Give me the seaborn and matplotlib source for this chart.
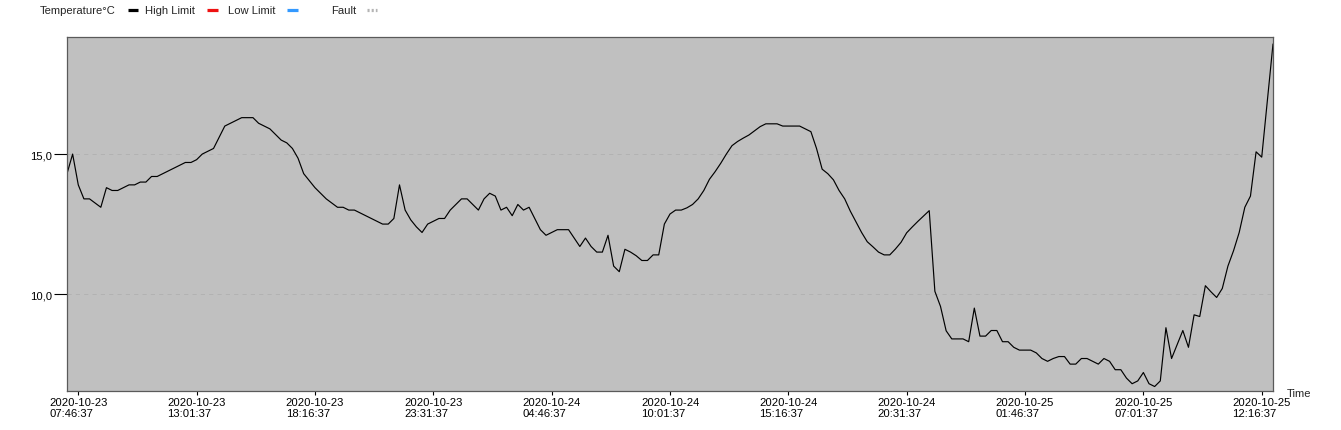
import numpy as np
import pandas as pd
import matplotlib
matplotlib.use("Agg")
import matplotlib.pyplot as plt
import matplotlib.dates as mdates
from matplotlib.lines import Line2D
from matplotlib.ticker import FuncFormatter
import seaborn as sns

# ---------------- data ----------------
start_time = "2020-10-23 07:16:37"
sample_freq = "15min"
temperature = [
    14.3, 15.0, 13.9, 13.4, 13.4, 13.25, 13.1, 13.8, 13.7, 13.7,
    13.8, 13.9, 13.9, 14.0, 14.0, 14.2, 14.2, 14.3, 14.4, 14.5,
    14.6, 14.7, 14.7, 14.8, 15.0, 15.1, 15.2, 15.6, 16.0, 16.1,
    16.2, 16.3, 16.3, 16.3, 16.1, 16.0, 15.9, 15.7, 15.5, 15.4,
    15.2, 14.85, 14.3, 14.05, 13.8, 13.6, 13.4, 13.25, 13.1, 13.1,
    13.0, 13.0, 12.9, 12.8, 12.7, 12.6, 12.5, 12.5, 12.7, 13.9,
    13.0, 12.65, 12.4, 12.2, 12.5, 12.6, 12.7, 12.7, 13.0, 13.2,
    13.4, 13.4, 13.2, 13.0, 13.4, 13.6, 13.5, 13.0, 13.1, 12.8,
    13.2, 13.0, 13.1, 12.7, 12.3, 12.1, 12.2, 12.3, 12.3, 12.3,
    12.0, 11.7, 12.0, 11.7, 11.5, 11.5, 12.1, 11.0, 10.8, 11.6,
    11.5, 11.37, 11.2, 11.2, 11.4, 11.4, 12.5, 12.86, 13.0, 13.0,
    13.08, 13.2, 13.4, 13.7, 14.1, 14.37, 14.67, 15.0, 15.3, 15.45,
    15.57, 15.68, 15.83, 15.98, 16.08, 16.08, 16.08, 16.0, 16.0, 16.0,
    16.0, 15.9, 15.8, 15.2, 14.46, 14.3, 14.08, 13.7, 13.4, 12.96,
    12.58, 12.2, 11.87, 11.69, 11.5, 11.4, 11.4, 11.61, 11.85, 12.19,
    12.4, 12.6, 12.79, 12.98, 10.1, 9.56, 8.69, 8.4, 8.4, 8.4,
    8.3, 9.5, 8.5, 8.5, 8.7, 8.7, 8.3, 8.3, 8.1, 8.0,
    8.0, 8.0, 7.9, 7.7, 7.6, 7.7, 7.77, 7.77, 7.5, 7.5,
    7.7, 7.7, 7.6, 7.5, 7.7, 7.6, 7.3, 7.3, 7.0, 6.8,
    6.9, 7.2, 6.8, 6.7, 6.9, 8.8, 7.7, 8.2, 8.7, 8.1,
    9.26, 9.2, 10.3, 10.08, 9.88, 10.2, 11.0, 11.55, 12.2, 13.1,
    13.5, 15.08, 14.89, 16.9, 18.93,
]
tick_times = [
    "2020-10-23 07:46:37", "2020-10-23 13:01:37", "2020-10-23 18:16:37",
    "2020-10-23 23:31:37", "2020-10-24 04:46:37", "2020-10-24 10:01:37",
    "2020-10-24 15:16:37", "2020-10-24 20:31:37", "2020-10-25 01:46:37",
    "2020-10-25 07:01:37", "2020-10-25 12:16:37",
]
y_ticks = [10.0, 15.0]
y_limits = (6.54, 19.18)
legend_labels = ["Temperature°C", "High Limit", "Low Limit", "Fault"]
legend_colors = ["#000000", "#ee1111", "#3399ff", "#b4b4b4"]

times = pd.date_range(start_time, periods=len(temperature), freq=sample_freq)
df = pd.DataFrame({"Time": times, "Temperature": temperature})

# ---------------- style ----------------
sns.set_style("white")
plt.rcParams["font.family"] = ["Liberation Sans", "DejaVu Sans"]
plt.rcParams["lines.scale_dashes"] = False
FS = 8.1

W, H = 1341, 431
fig = plt.figure(figsize=(W / 100, H / 100), dpi=100)
fig.patch.set_facecolor("white")
ax = fig.add_axes([67 / W, (H - 392) / H, (1273 - 67) / W, (392 - 38) / H])
ax.set_facecolor("#c0c0c0")

sns.lineplot(data=df, x="Time", y="Temperature", ax=ax, color="black",
             linewidth=0.85, legend=False)

ax.set_xlim(times[0], times[-1])
ax.set_ylim(*y_limits)

tick_dt = pd.to_datetime(tick_times)
ax.set_xticks(mdates.date2num(tick_dt))
ax.set_xticklabels([t.strftime("%Y-%m-%d\n%H:%M:%S") for t in tick_dt],
                   fontsize=FS, multialignment="left", linespacing=1.15)
ax.set_yticks(y_ticks)
ax.yaxis.set_major_formatter(FuncFormatter(lambda v, p: f"{v:.1f}".replace(".", ",")))

ax.tick_params(axis="y", length=9.5, width=0.8, color="black", pad=1,
               labelsize=FS, labelcolor="black", left=True)
ax.tick_params(axis="x", length=3, width=0.8, color="black", pad=1,
               labelsize=FS, labelcolor="black", bottom=True)

ax.grid(axis="y", color="#b2b2b2", linestyle=(0, (3, 3)), linewidth=0.7)
ax.grid(axis="x", visible=False)
ax.set_axisbelow(True)

for s in ax.spines.values():
    s.set_visible(True)
    s.set_color("#5a5a5a")
    s.set_linewidth(0.9)

ax.set_xlabel("")
ax.set_ylabel("")

fig.text(1287 / W, 1 - 394 / H, "Time", fontsize=FS, va="center", ha="left")

# ---------------- legend (label followed by swatch) ----------------
def px(x, y):
    return x / W, 1 - y / H

label_x = [40, 145, 228, 331]
swatch_x = [127.7, 207.3, 287.3, 366.7]
ly = 10.5
for lab, x in zip(legend_labels, label_x):
    fig.text(*px(x, ly), lab, fontsize=FS, va="center", ha="left")
for i, (c, x) in enumerate(zip(legend_colors, swatch_x)):
    x0, y0 = px(x, ly)
    x1, _ = px(x + 10.5, ly)
    if i == 3:
        ln = Line2D([x0, x1], [y0, y0], transform=fig.transFigure, color=c,
                    linewidth=2.3, linestyle=(0, (1.5, 1.5)), solid_capstyle="butt",
                    dash_capstyle="butt")
    else:
        ln = Line2D([x0, x1], [y0, y0], transform=fig.transFigure, color=c,
                    linewidth=2.3, solid_capstyle="butt")
    fig.add_artist(ln)

fig.savefig("out.png", dpi=100, facecolor="white")
